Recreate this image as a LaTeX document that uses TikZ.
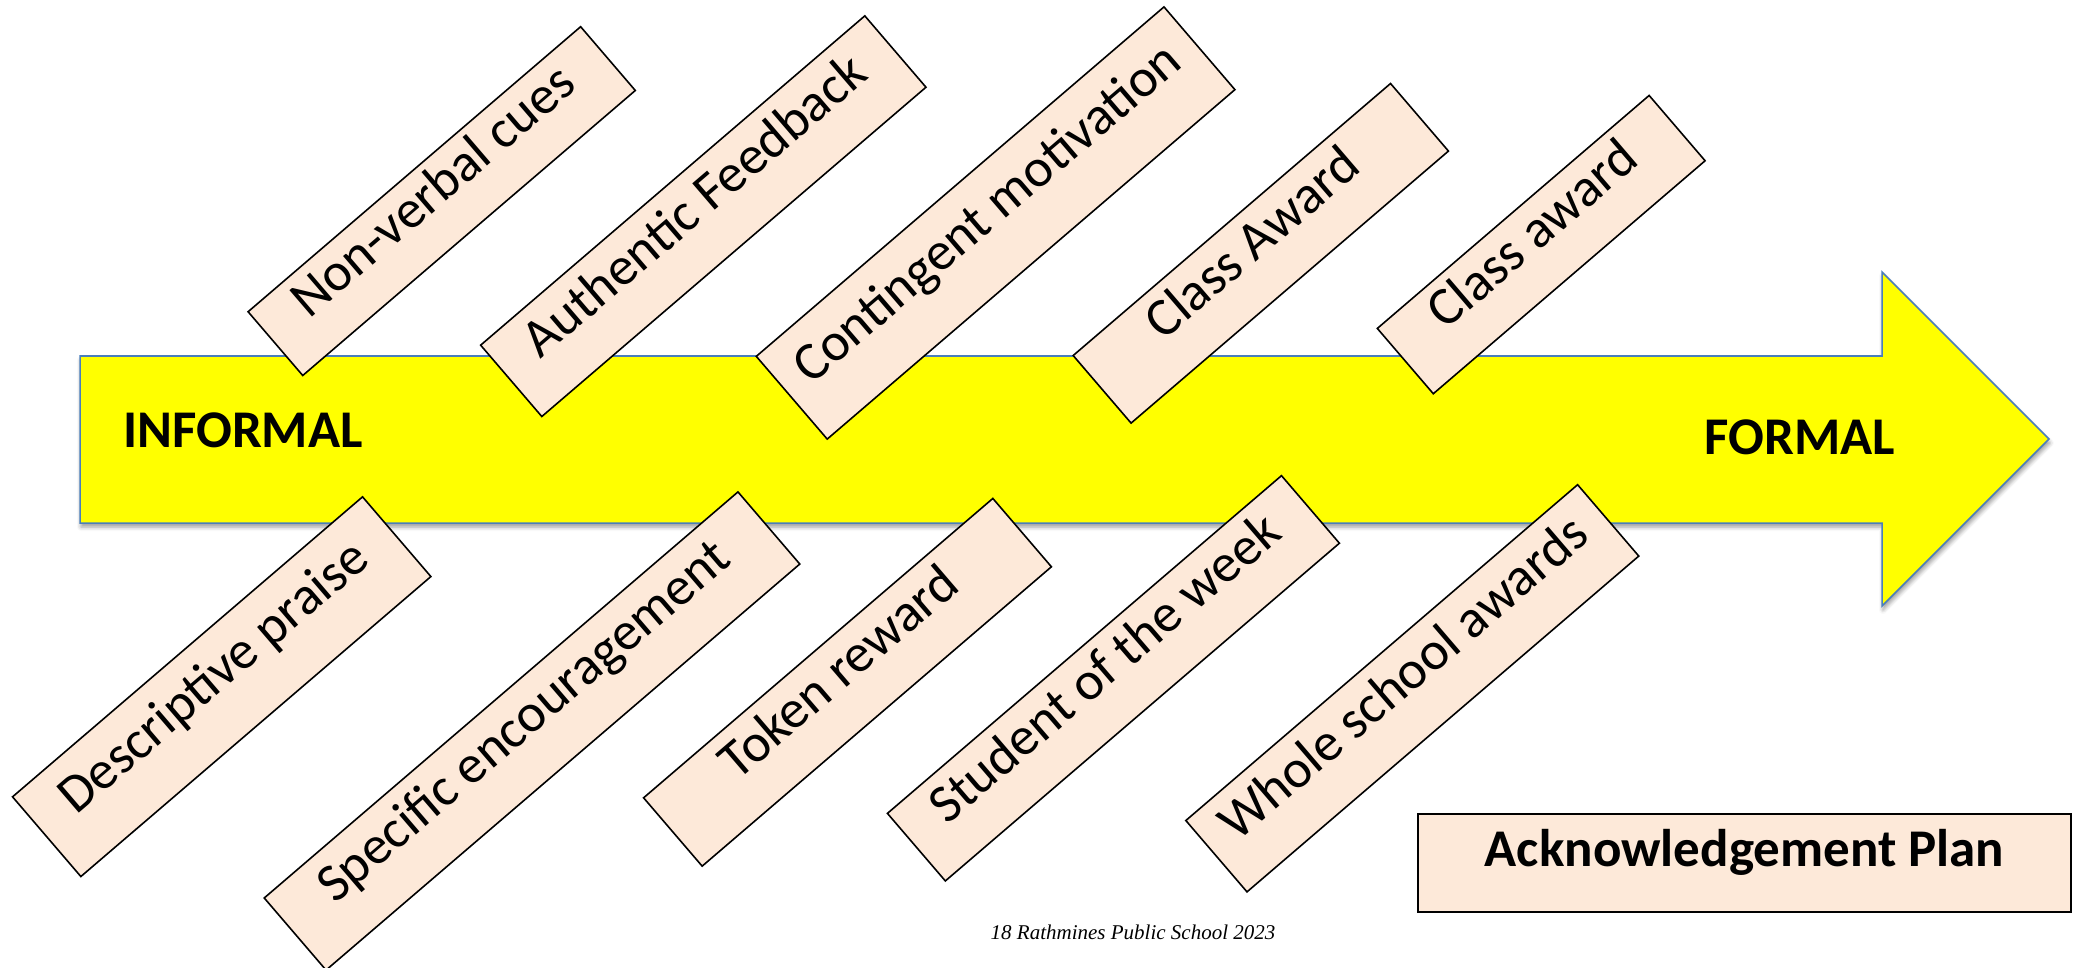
\documentclass[tikz,border=0pt]{standalone}
\usepackage{fontspec}
\setmainfont{Carlito}
\newfontfamily\footerfont{Liberation Serif}
\usetikzlibrary{shadows.blur}

\definecolor{peach}{HTML}{FDE9D9}
\definecolor{arrowyellow}{HTML}{FFFF00}
\definecolor{arrowedge}{HTML}{4A7EBB}

\tikzset{
  card/.style={draw=black, line width=1.6pt, fill=peach, rotate=40.6,
    inner sep=0pt, text height=0.75em, text depth=0.05em,
    font=\fontsize{54}{60}\selectfont},
  tag/.style={inner sep=0pt, font=\fontsize{53}{60}\selectfont\bfseries},
  planbox/.style={draw=black, line width=1.6pt, fill=peach, inner sep=0pt,
    text height=0.75em, text depth=0.05em,
    font=\fontsize{53}{60}\selectfont\bfseries},
  footer/.style={inner sep=0pt, font=\fontsize{21}{24}\selectfont\footerfont\itshape},
}

\begin{document}
\begin{tikzpicture}[x=1pt,y=-1pt]
\useasboundingbox (0,0) rectangle (2078,968);

% the yellow block arrow running from informal to formal
\path[fill=arrowyellow, draw=arrowedge, line width=1.5pt, line join=miter,
      blur shadow={shadow xshift=1pt, shadow yshift=-4pt, shadow blur radius=4pt, shadow opacity=40}]
  (80,356) -- (1882,356) -- (1882,272) -- (2049,439) -- (1882,606)
  -- (1882,523) -- (80,523) -- cycle;

\node[tag] (informal) at (243,430) {INFORMAL};
\node[tag] (formal) at (1800,437.5) {FORMAL};

% strategies above the arrow
\node[card, minimum width=438, minimum height=84]  (nonverbal)  at (441.7,201.1)  {Non-verbal cues};
\node[card, minimum width=506, minimum height=94]  (authentic)  at (703.3,216.2)  {Authentic Feedback};
\node[card, minimum width=537, minimum height=109] (contingent) at (995.6,223)    {Contingent motivation};
\node[card, minimum width=418, minimum height=89]  (classAward) at (1260.8,253.3) {Class Award};
\node[card, minimum width=358, minimum height=86]  (classaward) at (1541.2,244.6) {Class award};

% strategies below the arrow
\node[card, minimum width=461, minimum height=105] (descriptive) at (221.7,686.7)  {Descriptive praise};
\node[card, minimum width=624, minimum height=95]  (specific)    at (532,731)      {Specific encouragement};
\node[card, minimum width=460, minimum height=90]  (token)       at (847.5,682.3)  {Token reward};
\node[card, minimum width=519, minimum height=89]  (student)     at (1113.4,678.3) {Student of the week};
\node[card, minimum width=516, minimum height=94]  (whole)       at (1412.3,688.3) {Whole school awards};

% title box and footer
\node[planbox, minimum width=653, minimum height=98] (plan) at (1744.5,863) {Acknowledgement Plan};
\node[footer] (credit) at (1133,932.5) {18 Rathmines Public School 2023};
\end{tikzpicture}
\end{document}
